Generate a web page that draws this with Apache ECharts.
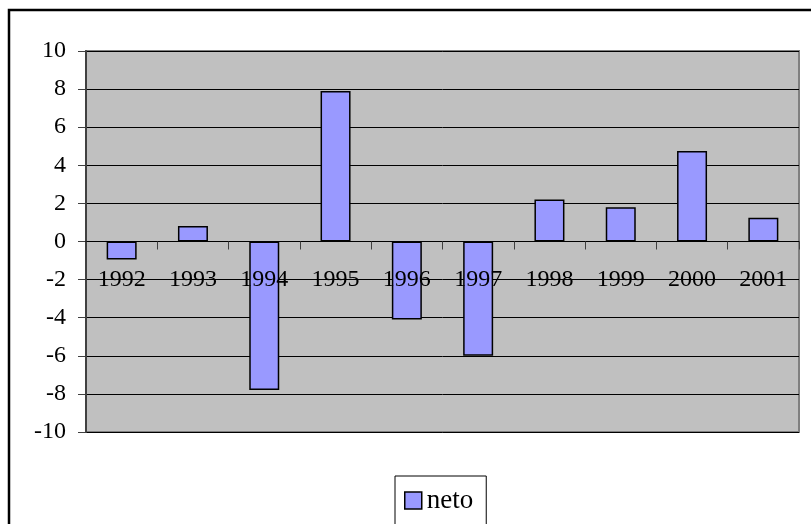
<!DOCTYPE html>
<html><head><meta charset="utf-8">
<script src="https://cdn.jsdelivr.net/npm/echarts@6/dist/echarts.min.js"></script>
<style>html,body{margin:0;padding:0;background:#fff;}#c{width:811px;height:524px;}</style>
</head><body><div id="c"></div>
<script>
var categories = ['1992','1993','1994','1995','1996','1997','1998','1999','2000','2001'];
var netoValues = [-0.95, 0.82, -7.8, 7.9, -4.1, -6.0, 2.2, 1.8, 4.75, 1.25];
var seriesName = 'neto';
var FONT = '"Liberation Serif", "Times New Roman", serif';
var chart = echarts.init(document.getElementById('c'));
chart.setOption({
  animation: false,
  backgroundColor: '#fff',
  graphic: [{
    type: 'rect', z: 100, silent: true,
    shape: {x: 9, y: 10, width: 900, height: 900},
    style: {fill: 'none', stroke: '#000', lineWidth: 2.5}
  }],
  grid: {left: 86, right: 12, top: 51, bottom: 92, show: true, backgroundColor: '#C0C0C0', borderColor: '#808080', borderWidth: 2},
  legend: {
    data: [seriesName], left: 395, top: 476,
    backgroundColor: '#fff', borderColor: '#000', borderWidth: 1,
    padding: [11, 13, 11, 9], itemWidth: 17, itemHeight: 17, itemGap: 5,
    icon: 'rect',
    itemStyle: {borderColor: '#000', borderWidth: 1.5},
    textStyle: {fontFamily: FONT, fontSize: 27, color: '#000'}
  },
  xAxis: {
    type: 'category', data: categories, z: 10,
    axisLine: {onZero: true, lineStyle: {color: '#000', width: 1}},
    axisTick: {show: true, length: 8, interval: 0, lineStyle: {color: '#404040'}},
    axisLabel: {fontFamily: FONT, fontSize: 24, color: '#000', margin: -164, interval: 0},
    splitLine: {show: false}
  },
  yAxis: {
    type: 'value', min: -10, max: 10, interval: 2,
    axisLine: {show: true, lineStyle: {color: '#404040', width: 2}},
    axisTick: {show: true, length: 8, lineStyle: {color: '#404040'}},
    axisLabel: {fontFamily: FONT, fontSize: 24, color: '#000', margin: 20},
    splitLine: {show: true, lineStyle: {color: '#000', width: 1}}
  },
  series: [{
    name: seriesName, type: 'bar', data: netoValues, barWidth: 30, z: 2,
    itemStyle: {color: '#9999FF', borderColor: '#000', borderWidth: 1.5}
  }]
});
</script></body></html>
